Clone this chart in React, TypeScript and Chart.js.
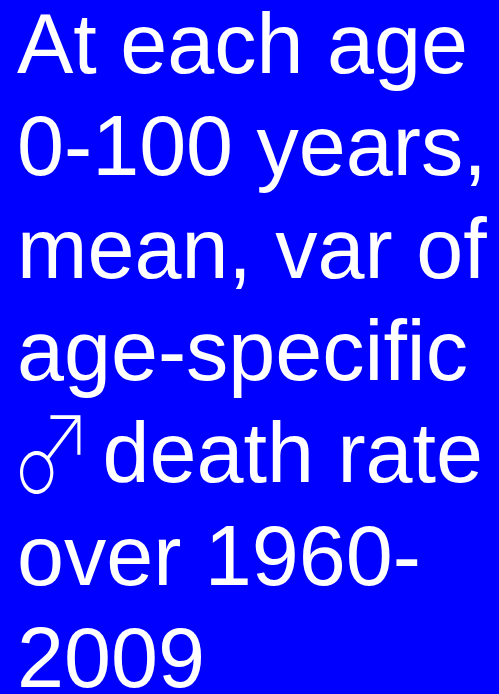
import React, { useEffect, useRef } from "react";
import { Chart, registerables } from "chart.js";

Chart.register(...registerables);

// Each line is a list of [text, fontKind] segments
const TITLE_LINES: [string, string][][] = [
  [["At each age", "main"]],
  [["0-100 years,", "main"]],
  [["mean, var of", "main"]],
  [["age-specific", "main"]],
  [["♂", "symbol"], [" death rate", "main"]],
  [["over 1960-", "main"]],
  [["2009", "main"]],
];
const CATEGORIES: string[] = [];
const VALUES: number[] = [];

const MAIN_FONT = "84.5px 'Liberation Sans', Arial, sans-serif";
const SYMBOL_STYLE = {
  font: "100 108px 'Noto Sans CJK JP', sans-serif",
  scaleX: 0.77,
  dx: -7,
  dy: 12,
  advance: 62,
};

const slidePlugin = {
  id: "slideText",
  beforeDraw(chart: any) {
    const { ctx, width, height } = chart;
    ctx.save();
    ctx.fillStyle = "#0000FF";
    ctx.fillRect(0, 0, width, height);
    ctx.fillStyle = "#FFFFFF";
    ctx.textBaseline = "alphabetic";
    ctx.textAlign = "left";
    const left = 17;
    const firstBaseline = 73;
    const lineStep = 102.3;
    TITLE_LINES.forEach((segs, i) => {
      let x = left;
      const y = firstBaseline + i * lineStep;
      segs.forEach(([txt, kind]) => {
        if (kind === "symbol") {
          ctx.save();
          ctx.font = SYMBOL_STYLE.font;
          ctx.translate(x + SYMBOL_STYLE.dx, y + SYMBOL_STYLE.dy);
          ctx.scale(SYMBOL_STYLE.scaleX, 1);
          ctx.fillText(txt, 0, 0);
          ctx.restore();
          x += SYMBOL_STYLE.advance;
        } else {
          ctx.font = MAIN_FONT;
          ctx.fillText(txt, x, y);
          x += ctx.measureText(txt).width;
        }
      });
    });
    ctx.restore();
  },
};

export default function App() {
  const ref = useRef<HTMLCanvasElement | null>(null);
  useEffect(() => {
    if (!ref.current) return;
    const chart = new Chart(ref.current, {
      type: "bar",
      data: { labels: CATEGORIES, datasets: [{ data: VALUES }] },
      options: {
        animation: false,
        responsive: false,
        layout: { padding: 0 },
        scales: { x: { display: false }, y: { display: false } },
        plugins: {
          legend: { display: false },
          tooltip: { enabled: false },
          title: { display: false },
        },
      },
      plugins: [slidePlugin],
    });
    return () => chart.destroy();
  }, []);
  return (
    <div style={{ position: "fixed", left: 0, top: 0, width: 499, height: 694 }}>
      <canvas ref={ref} width={499} height={694} style={{ display: "block" }} />
    </div>
  );
}
